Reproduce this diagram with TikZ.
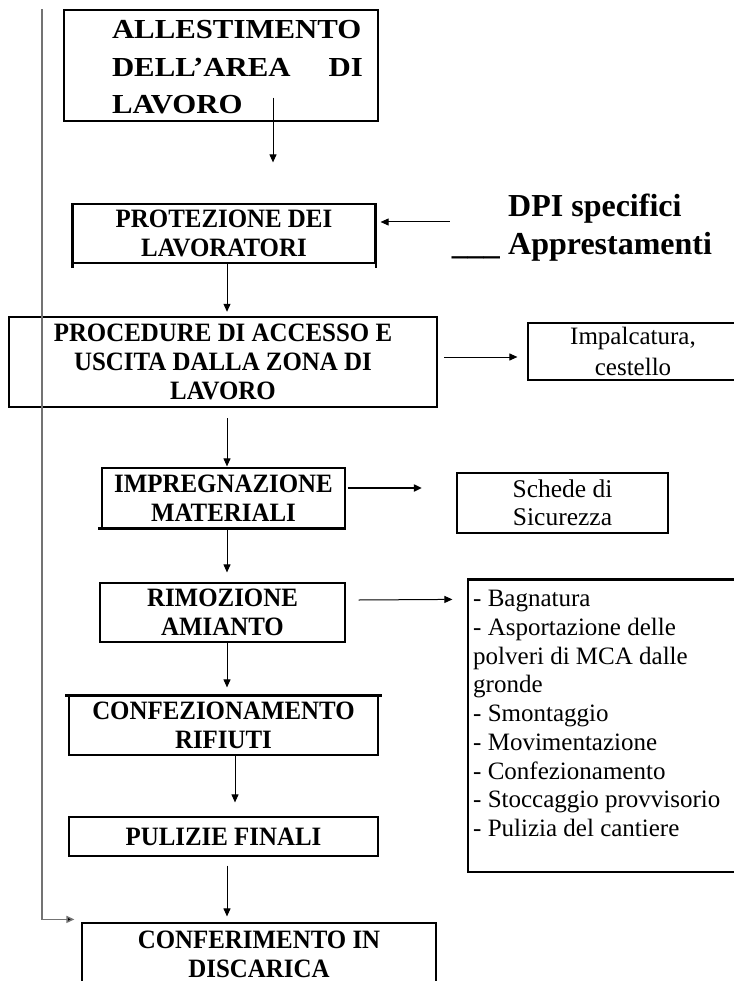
\documentclass[tikz,border=0pt]{standalone}
\usepackage{fontspec}
\setmainfont{Liberation Serif}
\newfontfamily\widefont[FakeStretch=1.12]{Liberation Serif Bold}
\newfontfamily\capfont[FakeStretch=0.94]{Liberation Serif Bold}
\usetikzlibrary{arrows.meta,calc}
\begin{document}
\begin{tikzpicture}[x=1pt,y=-1pt,
  box/.style={draw,line width=1.2pt,inner sep=0pt,rectangle,align=center},
  capt/.style={font={\capfont\fontsize{26.5}{29}\selectfont}},
  sidetxt/.style={font={\fontsize{25.5}{28}\selectfont}},
  arr/.style={line width=1pt,-{Triangle[length=8pt,width=7pt]}},
  thickedge/.style={line width=2.4pt},
]
\useasboundingbox (0,0) rectangle (733,981);

% helper axes for vertical connectors
\coordinate (ax)  at (227,0);
\coordinate (ax1) at (273,0);
\coordinate (ax2) at (235,0);
\coordinate (lx)  at (42,0);

% main column
\node[box,minimum width=314pt,minimum height=111pt] (b1) at (221,65.5) {};
\node[inner sep=0pt,align=left,font={\widefont\fontsize{27.5}{37.5}\selectfont}] (b1t) at (237.5,67.5)
  {ALLESTIMENTO\\\makebox[251pt][s]{DELL’AREA\hfill DI}\\LAVORO};

\node[box,capt,minimum width=302pt,minimum height=59pt] (b2) at (224,233.5) {PROTEZIONE DEI\\LAVORATORI};
\node[box,capt,line width=2.4pt,minimum width=428pt,minimum height=90pt] (b3) at (223,362) {PROCEDURE DI ACCESSO E\\USCITA DALLA ZONA DI\\LAVORO};
\node[box,capt,minimum width=243pt,minimum height=60pt] (b4) at (223.5,498) {IMPREGNAZIONE\\MATERIALI};
\node[box,capt,minimum width=245pt,minimum height=59pt] (b5) at (222.5,612.5) {RIMOZIONE\\AMIANTO};
\node[box,capt,minimum width=309pt,minimum height=59pt] (b6) at (223.5,725.5) {CONFEZIONAMENTO\\RIFIUTI};
\node[box,capt,minimum width=309pt,minimum height=39pt] (b7) at (223.5,836.5) {PULIZIE FINALI};
\node[box,capt,minimum width=354pt,minimum height=62pt] (b8) at (259,954) {CONFERIMENTO IN\\DISCARICA};

% heavier edges as in the scan
\draw[line width=2.2pt] (b2.north west) -- ($(b2.south west)+(0,4)$);
\draw[line width=2.2pt] (b2.north east) -- ($(b2.south east)+(0,4)$);
\draw[thickedge] ($(b4.south west)+(-3,0)$) -- (b4.south east);
\draw[thickedge] ($(b6.north west)+(-3,0)$) -- ($(b6.north east)+(3,0)$);

% right-hand texts and boxes
\node[inner sep=0pt,anchor=base west,font={\bfseries\fontsize{32}{38}\selectfont}] (dpi1) at (508,217) {DPI specifici};
\node[inner sep=0pt,anchor=base west,font={\bfseries\fontsize{32}{38}\selectfont}] (dpi2) at (508,255) {Apprestamenti};
\node[inner sep=0pt,anchor=base east,font={\bfseries\fontsize{32}{38}\selectfont}] (und) at (500,255) {\_\_\_};

\node[box,font={\fontsize{25}{31}\selectfont},minimum width=210pt,minimum height=57pt] (imp) at (633,351.5) {Impalcatura,\\cestello};
\node[box,sidetxt,minimum width=211pt,minimum height=60pt] (sch) at (562.5,503) {Schede di\\Sicurezza};
\node[box,minimum width=272pt,minimum height=292pt] (lst) at (604,726) {};
\draw[thickedge] (lst.north west) -- (lst.north east);
\draw[line width=1.8pt] (lst.north west) -- (lst.south west);
\node[inner sep=0pt,anchor=north west,align=left,font={\fontsize{25}{28.75}\selectfont}] (lstt) at (473,590)
  {- Bagnatura\\- Asportazione delle\\polveri di MCA dalle\\gronde\\- Smontaggio\\- Movimentazione\\- Confezionamento\\- Stoccaggio provvisorio\\- Pulizia del cantiere};

% vertical connectors
\draw[arr] ($(b1.south -| ax1)+(0,-24)$) -- ($(b2.north -| ax1)+(0,-41)$);
\draw[arr] (b2.south -| ax) -- ($(b3.north -| ax)+(0,-4)$);
\draw[arr] ($(b3.south -| ax)+(0,10)$) -- ($(b4.north -| ax)+(0,-1)$);
\draw[arr] (b4.south -| ax) -- ($(b5.north -| ax)+(0,-10)$);
\draw[arr] (b5.south -| ax) -- ($(b6.north -| ax)+(0,-8)$);
\draw[arr] (b6.south -| ax2) -- ($(b7.north -| ax2)+(0,-14)$);
\draw[arr] ($(b7.south -| ax)+(0,9)$) -- ($(b8.north -| ax)+(0,-6)$);

% side connectors
\draw[arr] ($(und.base west)+(-2,-33)$) -- ($(b2.east)+(5,-11.5)$);
\draw[arr] ($(b3.east)+(6,-5)$) -- ($(imp.west)+(-10,5.5)$);
\draw[arr,line width=1.8pt] ($(b4.east)+(2,-10)$) -- ($(sch.west)+(-34.5,-15)$);
\draw[arr] ($(b5.east)+(13,-12.5)$) -- ($(lst.north west)+(-15,20)$);

% left feedback line
\draw[line width=1.4pt,draw=black!55,-{Triangle[length=8pt,width=7pt,fill=black]}]
  (lx |- b1.north) -- ($(lx |- b8.north)+(0,-3)$) -- ($(b8.north west)+(-7,-3)$);
\end{tikzpicture}
\end{document}
